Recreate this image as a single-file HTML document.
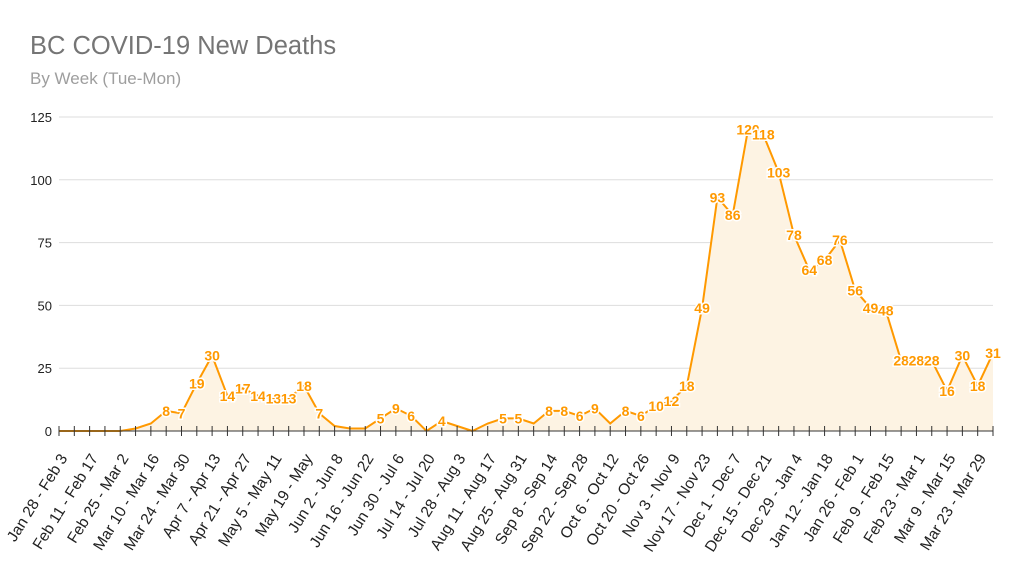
<!DOCTYPE html>
<html><head><meta charset="utf-8"><style>
body{margin:0;background:#fff;}
svg{display:block;font-family:"Liberation Sans",Arial,sans-serif;}
</style></head><body>
<svg width="1023" height="587" viewBox="0 0 1023 587" id="s">
<text x="30" y="54" font-size="25.5" fill="#757575">BC COVID-19 New Deaths</text>
<text x="30" y="84" font-size="17" fill="#9e9e9e">By Week (Tue-Mon)</text>
<g id="g"></g>
</svg>
<script>
const d=[0,0,0,0,0,1,3,8,7,19,30,14,17,14,13,13,18,7,2,1,1,5,9,6,0,4,2,0,3,5,5,3,8,8,6,9,3,8,6,10,12,18,49,93,86,120,118,103,78,64,68,76,56,49,48,28,28,28,16,30,18,31];
const labs=["Jan 28 - Feb 3","Feb 11 - Feb 17","Feb 25 - Mar 2","Mar 10 - Mar 16","Mar 24 - Mar 30","Apr 7 - Apr 13","Apr 21 - Apr 27","May 5 - May 11","May 19 - May","Jun 2 - Jun 8","Jun 16 - Jun 22","Jun 30 - Jul 6","Jul 14 - Jul 20","Jul 28 - Aug 3","Aug 11 - Aug 17","Aug 25 - Aug 31","Sep 8 - Sep 14","Sep 22 - Sep 28","Oct 6 - Oct 12","Oct 20 - Oct 26","Nov 3 - Nov 9","Nov 17 - Nov 23","Dec 1 - Dec 7","Dec 15 - Dec 21","Dec 29 - Jan 4","Jan 12 - Jan 18","Jan 26 - Feb 1","Feb 9 - Feb 15","Feb 23 - Mar 1","Mar 9 - Mar 15","Mar 23 - Mar 29"];
const X=i=>59+i*(934/61), Y=v=>431-v*2.512;
let h='';
[0,25,50,75,100,125].forEach(v=>{const y=Y(v);
 if(v>0)h+=`<line x1="59" x2="993" y1="${y}" y2="${y}" stroke="#ddd"/>`;
 h+=`<text x="52" y="${y+5}" font-size="13" fill="#222" text-anchor="end">${v}</text>`;});
let pts=d.map((v,i)=>X(i).toFixed(1)+','+Y(v).toFixed(1)).join(' ');
h+=`<polygon points="59,431 ${pts} 993,431" fill="#fdf3e3"/>`;
h+=`<polyline points="${pts}" fill="none" stroke="#ff9900" stroke-width="2"/>`;
h+=`<line x1="59" x2="993" y1="431" y2="431" stroke="#333"/>`;
d.forEach((v,i)=>{h+=`<line x1="${X(i)}" x2="${X(i)}" y1="426" y2="436" stroke="#333"/>`;});
d.forEach((v,i)=>{if(v>=4)h+=`<text x="${X(i)}" y="${Y(v)+5}" font-size="14" font-weight="bold" fill="#ff9900" text-anchor="middle" stroke="#fff" stroke-width="3" paint-order="stroke">${v}</text>`;});
labs.forEach((l,k)=>{const x=X(2*k)+9,y=458;h+=`<text x="${x}" y="${y}" font-size="15.5" fill="#222" text-anchor="end" transform="rotate(-58 ${x} ${y})">${l}</text>`;});
document.getElementById('g').innerHTML=h;
</script>
</body></html>
